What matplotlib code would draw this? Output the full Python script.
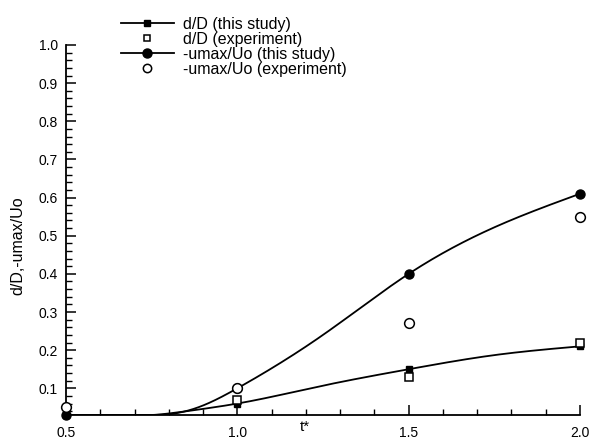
import numpy as np
import matplotlib
matplotlib.use("Agg")
import matplotlib.pyplot as plt
from matplotlib.ticker import MultipleLocator, FixedLocator
from matplotlib.lines import Line2D

plt.rcParams['font.family'] = ['Liberation Sans', 'DejaVu Sans']

# sampled times (markers)
t_star = [0.5, 1.0, 1.5, 2.0]

# bubble diameter ratio
dD_study = [0.03, 0.06, 0.15, 0.21]
dD_exp_t = [1.0, 1.5, 2.0]
dD_exp = [0.07, 0.13, 0.22]

# maximum velocity ratio
umax_study = [0.03, 0.10, 0.40, 0.61]
umax_exp = [0.05, 0.10, 0.27, 0.55]

# continuous simulation histories
t_curve = [0.5, 0.6, 0.7, 0.75, 0.8, 0.9, 1.0, 1.25, 1.5, 1.75, 2.0]
dD_curve = [0.03, 0.03, 0.03, 0.03, 0.034, 0.046, 0.06, 0.107, 0.15, 0.187, 0.21]
umax_curve = [0.03, 0.03, 0.03, 0.03, 0.032, 0.055, 0.10, 0.24, 0.40, 0.522, 0.61]

x_ticks = [0.5, 1.0, 1.5, 2.0]
x_ticklabels = ['0.5', '1.0', '1.5', '2.0']
y_ticks = [0.1, 0.2, 0.3, 0.4, 0.5, 0.6, 0.7, 0.8, 0.9, 1.0]


def natural_spline(x, y, n=400):
    x = np.asarray(x, float)
    y = np.asarray(y, float)
    k = len(x)
    h = np.diff(x)
    A = np.zeros((k, k))
    b = np.zeros(k)
    A[0, 0] = A[-1, -1] = 1.0
    for i in range(1, k - 1):
        A[i, i - 1] = h[i - 1] / 6
        A[i, i] = (h[i - 1] + h[i]) / 3
        A[i, i + 1] = h[i] / 6
        b[i] = (y[i + 1] - y[i]) / h[i] - (y[i] - y[i - 1]) / h[i - 1]
    M = np.linalg.solve(A, b)
    xs = np.linspace(x[0], x[-1], n)
    idx = np.clip(np.searchsorted(x, xs) - 1, 0, k - 2)
    x0, x1 = x[idx], x[idx + 1]
    hh = x1 - x0
    ys = (M[idx] * (x1 - xs) ** 3 / (6 * hh) + M[idx + 1] * (xs - x0) ** 3 / (6 * hh)
          + (y[idx] - M[idx] * hh ** 2 / 6) * (x1 - xs) / hh
          + (y[idx + 1] - M[idx + 1] * hh ** 2 / 6) * (xs - x0) / hh)
    return xs, ys


fig = plt.figure(figsize=(5.92, 4.44), dpi=100)
ax = fig.add_axes([66 / 592, 1 - 415 / 444, (580 - 66) / 592, (415 - 45) / 444])

lw = 1.3
xs, ys = natural_spline(t_curve, dD_curve)
ax.plot(xs, ys, color='black', lw=lw)
xs, ys = natural_spline(t_curve, umax_curve)
ax.plot(xs, ys, color='black', lw=lw)

ax.plot(t_star, dD_study, 's', color='black', ms=5, clip_on=False, zorder=3)
ax.plot(t_star, umax_study, 'o', color='black', ms=6.5, clip_on=False, zorder=3)
ax.plot(dD_exp_t, dD_exp, 's', mfc='white', mec='black', mew=1.1, ms=5.5,
        clip_on=False, zorder=4)
ax.plot(t_star, umax_exp, 'o', mfc='white', mec='black', mew=1.1, ms=7,
        clip_on=False, zorder=4)

ax.set_xlim(0.5, 2.0)
ax.set_ylim(0.03, 1.0)
ax.xaxis.set_major_locator(FixedLocator(x_ticks))
ax.set_xticklabels(x_ticklabels)
ax.xaxis.set_minor_locator(MultipleLocator(0.1))
ax.yaxis.set_major_locator(FixedLocator(y_ticks))
ax.yaxis.set_minor_locator(MultipleLocator(0.02))
ax.set_yticklabels([f'{v:.1f}' for v in y_ticks])

for s in ('top', 'right'):
    ax.spines[s].set_visible(False)
for s in ('left', 'bottom'):
    ax.spines[s].set_linewidth(1.3)

ax.tick_params(which='major', direction='in', length=7, width=1.1, labelsize=10)
ax.tick_params(which='minor', direction='in', length=4, width=1.0)
ax.tick_params(axis='y', which='major', pad=6)
ax.tick_params(axis='x', which='major', pad=8)

ax.set_xlabel('t*', fontsize=11)
ax.xaxis.set_label_coords(0.465, -0.013)
ax.set_ylabel('d/D,-umax/Uo', fontsize=11.5)
ax.yaxis.set_label_coords(-0.08, 0.457)

# legend: line with marker for simulation, marker only for experiment
lh1 = Line2D([], [], color='black', lw=lw, marker='s', ms=5)
lh2 = Line2D([], [], ls='none', marker='s', mfc='white', mec='black', mew=1.1, ms=5)
lh3 = Line2D([], [], color='black', lw=lw, marker='o', ms=6.5)
lh4 = Line2D([], [], ls='none', marker='o', mfc='white', mec='black', mew=1.1, ms=6)
fig.legend([lh1, lh2, lh3, lh4],
           ['d/D (this study)', 'd/D (experiment)', '-umax/Uo (this study)',
            '-umax/Uo (experiment)'],
           loc='upper left', bbox_to_anchor=(121 / 592, 1 - 17 / 444),
           frameon=False, fontsize=11.5, handlelength=3.3, handletextpad=0.6,
           labelspacing=0.0, borderaxespad=0, borderpad=0)

fig.savefig('out.png', dpi=100)
